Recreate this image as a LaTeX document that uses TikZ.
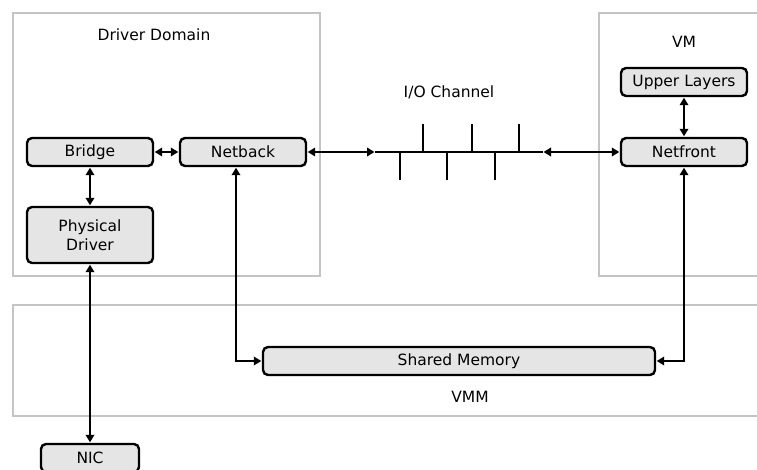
\documentclass[tikz,border=0pt]{standalone}
\usepackage{fontspec}
\setmainfont{DejaVu Sans}
\usetikzlibrary{arrows.meta}
\definecolor{regiongray}{HTML}{C4C4C4}
\definecolor{boxfill}{HTML}{E5E5E5}
\begin{document}
\begin{tikzpicture}[x=1pt,y=-1pt,
  region/.style={draw=regiongray,line width=2.2pt},
  comp/.style={draw=black,fill=boxfill,line width=2.4pt,rounded corners=5pt,
    inner sep=0pt,minimum width=126pt,minimum height=28pt,align=center,
    font=\fontsize{15.5}{19.5}\selectfont},
  lbl/.style={font=\fontsize{15.5}{19.5}\selectfont,inner sep=0pt},
  conn/.style={line width=2.2pt,{Triangle[length=7.5pt,width=8.5pt]}-{Triangle[length=7.5pt,width=8.5pt]},shorten <=0.5pt,shorten >=0.5pt},
  tick/.style={line width=2.2pt}]
\clip (0,0) rectangle (757,470);
% regions
\draw[region] (13,13) rectangle (320,276);
\draw[region] (599,13) rectangle (780,276);
\draw[region] (13,305) rectangle (780,416);
\node[lbl] (ddlbl) at (154,35) {Driver Domain};
\node[lbl] (vmlbl) at (684,42) {VM};
\node[lbl] (vmmlbl) at (470,397) {VMM};
\node[lbl] (iolbl) at (449,92) {I/O Channel};
% components
\node[comp] (bridge) at (90,152) {Bridge};
\node[comp] (netback) at (243,152) {Netback};
\node[comp,minimum height=56pt] (phys) at (90,235) {Physical\\Driver};
\node[comp] (netfront) at (684,152) {Netfront};
\node[comp] (upper) at (684,82) {Upper Layers};
\node[comp,minimum width=392pt] (shm) at (459,361) {Shared Memory};
\node[comp,minimum width=98pt] (nic) at (90,458) {NIC};
% channel
\coordinate (cl) at (375,152);
\coordinate (cr) at (543,152);
\draw[conn] (netback.east) -- (cl);
\draw[conn] (cr) -- (netfront.west);
\draw[tick] (cl) -- (cr);
\foreach \dx in {25,72,120} \draw[tick] ([xshift=\dx pt]cl) -- ++(0,28);
\foreach \dx in {48,97,144} \draw[tick] ([xshift=\dx pt]cl) -- ++(0,-28);
% connectors
\draw[conn] (bridge.east) -- (netback.west);
\draw[conn] (bridge.south) -- (phys.north);
\draw[conn] (phys.south) -- (nic.north);
\draw[conn] (upper.south) -- (netfront.north);
\draw[conn] ([xshift=-7pt]netback.south) |- (shm.west);
\draw[conn] (netfront.south) |- (shm.east);
\end{tikzpicture}
\end{document}
